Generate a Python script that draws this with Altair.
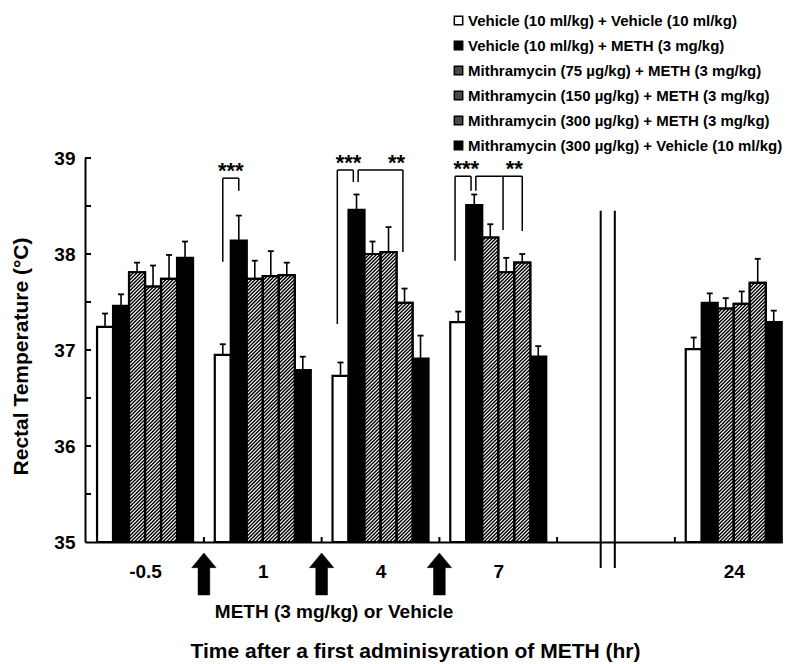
import altair as alt
import pandas as pd

# ---------------- data ----------------
time_labels = ["-0.5", "1", "4", "7", "24"]
time_slots = [0, 1, 2, 3, 5]          # slot 4 is the axis break

series_names = [
    "Vehicle (10 ml/kg) + Vehicle (10 ml/kg)",
    "Vehicle (10 ml/kg) + METH (3 mg/kg)",
    "Mithramycin (75 µg/kg) + METH (3 mg/kg)",
    "Mithramycin (150 µg/kg) + METH (3 mg/kg)",
    "Mithramycin (300 µg/kg) + METH (3 mg/kg)",
    "Mithramycin (300 µg/kg) +  Vehicle (10 ml/kg)",
]
series_style = ["white", "black", "hatch", "hatch", "hatch", "black"]
legend_colors = ["#ffffff", "#000000", "#4a4a4a", "#4a4a4a", "#4a4a4a", "#000000"]

mean_veh_veh = [37.24, 36.95, 36.73, 37.29, 37.01]
mean_veh_meth = [37.46, 38.14, 38.46, 38.51, 37.49]
mean_m75_meth = [37.81, 37.74, 38.00, 38.17, 37.43]
mean_m150_meth = [37.66, 37.77, 38.02, 37.81, 37.48]
mean_m300_meth = [37.74, 37.78, 37.49, 37.91, 37.70]
mean_m300_veh = [37.96, 36.79, 36.91, 36.93, 37.29]

sem_veh_veh = [0.14, 0.11, 0.14, 0.11, 0.12]
sem_veh_meth = [0.12, 0.26, 0.16, 0.11, 0.10]
sem_m75_meth = [0.10, 0.19, 0.13, 0.14, 0.11]
sem_m150_meth = [0.22, 0.26, 0.26, 0.15, 0.13]
sem_m300_meth = [0.25, 0.13, 0.15, 0.09, 0.25]
sem_m300_veh = [0.17, 0.14, 0.24, 0.11, 0.12]

means = [mean_veh_veh, mean_veh_meth, mean_m75_meth, mean_m150_meth, mean_m300_meth, mean_m300_veh]
sems = [sem_veh_veh, sem_veh_meth, sem_m75_meth, sem_m150_meth, sem_m300_meth, sem_m300_veh]

# significance brackets (group slot, from bar, to bar, bracket level, drops)
sig_slot = [1, 2, 2, 3, 3]
sig_from = [0, 0, 1, 0, 1]
sig_to = [1, 1, 4, 1, 4]
sig_level = [38.79, 38.875, 38.875, 38.81, 38.81]
sig_left_end = [37.92, 37.27, 38.75, 37.93, 38.66]
sig_right_end = [38.66, 38.75, 38.02, 38.66, 38.24]
sig_text = ["***", "***", "**", "***", "**"]
sig_mid_bar = [None, None, None, None, 3]
sig_mid_end = [None, None, None, None, 38.25]

arrow_slots = [0.5, 1.5, 2.5]
between_ticks = [0.5, 1.5, 2.5, 3.5, 4.5]
y_ticks = [35.5, 36.0, 36.5, 37.0, 37.5, 38.0, 38.5, 39.0]

# ---------------- geometry helpers ----------------
W, H = 697, 384
X_DOMAIN = [-0.51, 5.41]
Y_DOMAIN = [35, 39]
PX_X = W / (X_DOMAIN[1] - X_DOMAIN[0])
PX_Y = H / (Y_DOMAIN[1] - Y_DOMAIN[0])
BW = 16 / PX_X   # bar width in slot units
FONT = "Liberation Sans"


def bar_center(slot, i):
    return slot + (i - 2.5) * BW


rows = []
for si, name in enumerate(series_names):
    for ti, slot in enumerate(time_slots):
        c = bar_center(slot, si)
        m = means[si][ti]
        rows.append(dict(series=name, style=series_style[si], time=time_labels[ti],
                         xl=c - BW / 2, xr=c + BW / 2, xc=c,
                         capl=c - 3 / PX_X, capr=c + 3 / PX_X,
                         mean=m, top=m + sems[si][ti], base=Y_DOMAIN[0]))
bars = pd.DataFrame(rows)
hatched = bars[bars["style"] == "hatch"]

# hatch lines (45 degrees in screen space) clipped to each hatched bar
slope = PX_X / PX_Y
step = 3.6 / PX_Y
hrows = []
for r in hatched.itertuples():
    y0 = Y_DOMAIN[0] - BW * slope
    while y0 < r.mean:
        xs = max(r.xl, r.xl + (Y_DOMAIN[0] - y0) / slope)
        xe = min(r.xr, r.xl + (r.mean - y0) / slope)
        if xe > xs:
            hrows.append(dict(hx1=xs, hy1=y0 + (xs - r.xl) * slope,
                              hx2=xe, hy2=y0 + (xe - r.xl) * slope))
        y0 += step
hatch_df = pd.DataFrame(hrows)

from_shift = [0.0, -0.2, 0.1, -0.2, 0.1]
to_shift = [0.0, -0.2, -0.1, -0.2, 0.0]
label_shift = [0.0, 0.0, 1.0, 0.0, 1.0]
brows, srows = [], []
for k in range(len(sig_slot)):
    xa = bar_center(sig_slot[k], sig_from[k]) + from_shift[k] * BW
    xb = bar_center(sig_slot[k], sig_to[k]) + to_shift[k] * BW
    lv = sig_level[k]
    brows.append(dict(bx1=xa, bx2=xa, by1=lv, by2=sig_left_end[k]))
    brows.append(dict(bx1=xa, bx2=xb, by1=lv, by2=lv))
    brows.append(dict(bx1=xb, bx2=xb, by1=lv, by2=sig_right_end[k]))
    if sig_mid_bar[k] is not None:
        xm = bar_center(sig_slot[k], sig_mid_bar[k]) - 0.2 * BW
        brows.append(dict(bx1=xm, bx2=xm, by1=lv, by2=sig_mid_end[k]))
    srows.append(dict(sx=(bar_center(sig_slot[k], sig_from[k]) + bar_center(sig_slot[k], sig_to[k])) / 2
                      + label_shift[k] * BW,
                      sy=lv, txt=sig_text[k]))
bracket_df = pd.DataFrame(brows)
star_df = pd.DataFrame(srows)

ytick_df = pd.DataFrame(dict(ty=y_ticks, tx1=[X_DOMAIN[0]] * len(y_ticks),
                             tx2=[X_DOMAIN[0] + 6 / PX_X] * len(y_ticks)))
xtick_df = pd.DataFrame(dict(tx=between_ticks, ty1=[Y_DOMAIN[0]] * len(between_ticks),
                             ty2=[Y_DOMAIN[0] + 5 / PX_Y] * len(between_ticks)))
break_df = pd.DataFrame(dict(kx=[3.87, 3.99], ky1=[34.73, 34.73], ky2=[38.45, 38.45]))
arrow_df = pd.DataFrame(dict(ax=arrow_slots, ay=[34.667] * len(arrow_slots)))
note_df = pd.DataFrame(dict(nx=[1.606], ny=[34.27], txt=["METH (3 mg/kg) or Vehicle"]))

# ---------------- scales / axes ----------------
xscale = alt.Scale(domain=X_DOMAIN, nice=False, zero=False)
yscale = alt.Scale(domain=Y_DOMAIN, nice=False, zero=False)

label_expr = " : ".join(f"datum.value == {s} ? '{l}'" for s, l in zip(time_slots[:-1], time_labels[:-1]))
label_expr += f" : '{time_labels[-1]}'"

xaxis = alt.Axis(values=time_slots, labelExpr=label_expr, ticks=False, grid=False,
                 labelPadding=20, labelFont=FONT, labelFontSize=19, labelFontWeight="bold",
                 labelColor="black", domainColor="black", domainWidth=2,
                 title="Time after a first adminisyration of METH (hr)",
                 titleFont=FONT, titleFontSize=21, titleFontWeight="bold", titleColor="black",
                 titleX=330, titleY=109, titleAlign="center", titleBaseline="middle")
yaxis = alt.Axis(values=[35, 36, 37, 38, 39], format="d", ticks=False, grid=False,
                 labelPadding=10, labelFont=FONT, labelFontSize=19, labelFontWeight="bold",
                 labelColor="black", domainColor="black", domainWidth=2,
                 title="Rectal Temperature (°C)",
                 titleFont=FONT, titleFontSize=21, titleFontWeight="bold", titleColor="black",
                 titleX=-64, titleY=198, titleAlign="center", titleBaseline="middle", titleAngle=-90)


def X(f):
    return alt.X(f, type="quantitative", scale=xscale, axis=xaxis)


def Y(f):
    return alt.Y(f, type="quantitative", scale=yscale, axis=yaxis)


# ---------------- layers ----------------
base_bars = alt.Chart(bars).mark_bar(stroke="black", strokeWidth=2.2).encode(
    x=X("xl"), x2="xr", y=Y("mean"), y2="base",
    fill=alt.Fill("series:N", scale=alt.Scale(domain=series_names, range=legend_colors),
                  legend=alt.Legend(title=None, orient="none", legendX=366, legendY=-145,
                                    direction="vertical", symbolType="square", symbolSize=70,
                                    symbolStrokeColor="black", symbolStrokeWidth=1.5,
                                    labelFont=FONT, labelFontSize=15, labelFontWeight="bold",
                                    labelColor="black", labelLimit=600, labelOffset=2,
                                    rowPadding=9, padding=0)),
)
cover = alt.Chart(hatched).mark_bar(fill="white", strokeWidth=0).encode(
    x=X("xl"), x2="xr", y=Y("mean"), y2="base")
hatch = alt.Chart(hatch_df).mark_rule(color="black", strokeWidth=1.45).encode(
    x=X("hx1"), x2="hx2", y=Y("hy1"), y2="hy2")
outline = alt.Chart(hatched).mark_bar(fillOpacity=0, stroke="black", strokeWidth=2.2).encode(
    x=X("xl"), x2="xr", y=Y("mean"), y2="base")
err = alt.Chart(bars).mark_rule(color="black", strokeWidth=1.6).encode(
    x=X("xc"), y=Y("mean"), y2="top")
caps = alt.Chart(bars).mark_rule(color="black", strokeWidth=1.8).encode(
    x=X("capl"), x2="capr", y=Y("top"))
brackets = alt.Chart(bracket_df).mark_rule(color="black", strokeWidth=1.5).encode(
    x=X("bx1"), x2="bx2", y=Y("by1"), y2="by2")
stars = alt.Chart(star_df).mark_text(font=FONT, fontSize=22, fontWeight="bold", color="black",
                                     align="center", baseline="alphabetic").encode(
    x=X("sx"), y=Y("sy"), text="txt")
yticks = alt.Chart(ytick_df).mark_rule(color="black", strokeWidth=2).encode(
    x=X("tx1"), x2="tx2", y=Y("ty"))
xticks = alt.Chart(xtick_df).mark_rule(color="black", strokeWidth=2).encode(
    x=X("tx"), y=Y("ty1"), y2="ty2")
breaks = alt.Chart(break_df).mark_rule(color="black", strokeWidth=2).encode(
    x=X("kx"), y=Y("ky1"), y2="ky2")
arrow_path = "M0,-1L0.58,-0.3L0.28,-0.3L0.28,1L-0.28,1L-0.28,-0.3L-0.58,-0.3Z"
arrows = alt.Chart(arrow_df).mark_point(shape=arrow_path, filled=True, fill="black",
                                        stroke="black", strokeWidth=0.5, opacity=1,
                                        size=1764).encode(
    x=X("ax"), y=Y("ay"))
note = alt.Chart(note_df).mark_text(font=FONT, fontSize=19, fontWeight="bold", color="black",
                                    align="center", baseline="middle").encode(
    x=X("nx"), y=Y("ny"), text="txt")

chart = alt.layer(base_bars, cover, hatch, outline, err, caps, brackets, stars,
                  yticks, xticks, breaks, arrows, note).properties(
    width=W, height=H,
    autosize=alt.AutoSizeParams(type="none"),
    padding={"left": 85, "top": 158, "right": 4, "bottom": 122},
    background="white",
).configure_view(stroke=None)

chart.save("out.html", embed_options={"renderer": "svg", "actions": False})
